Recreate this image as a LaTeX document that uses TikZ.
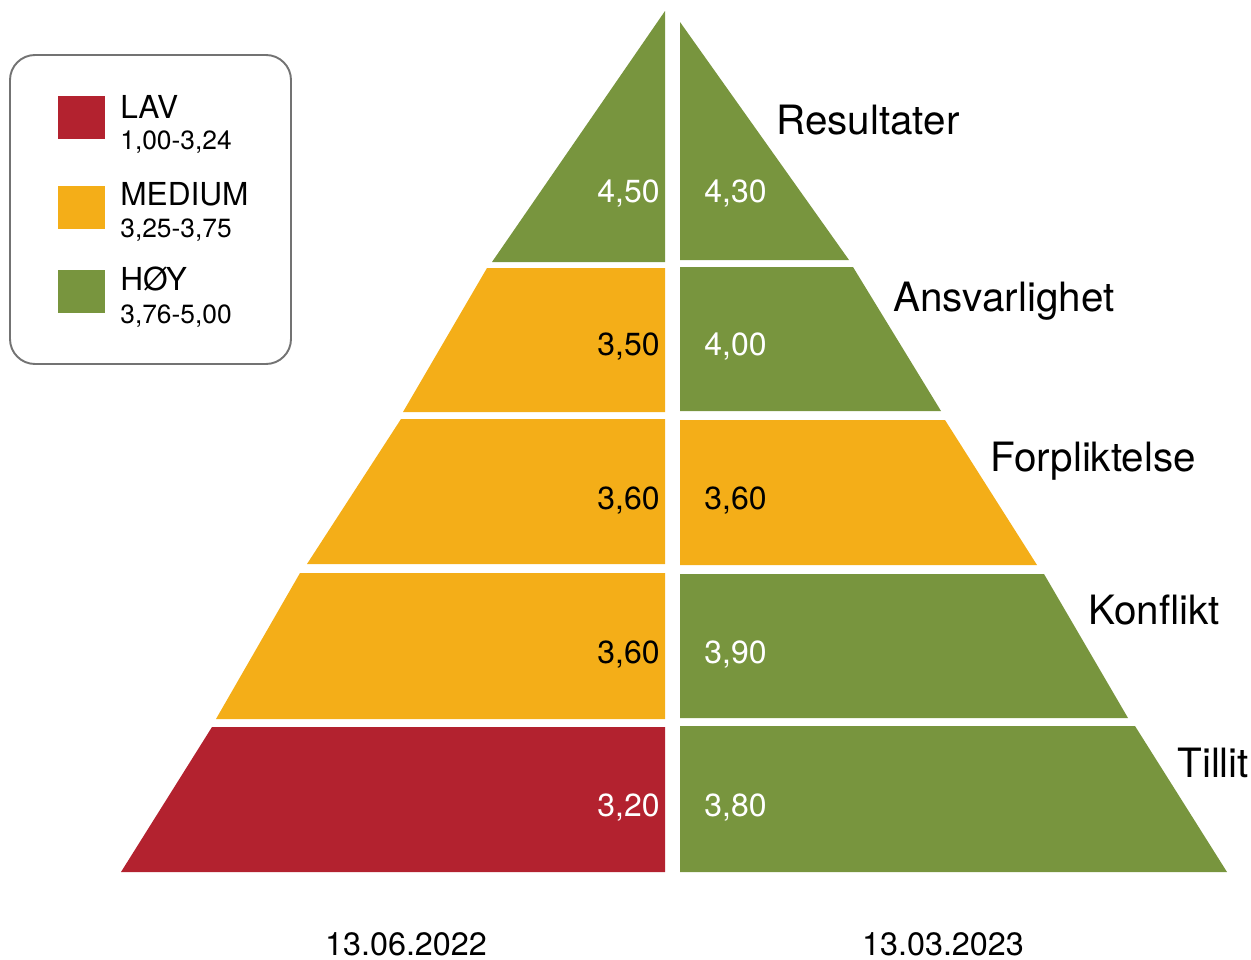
\documentclass[tikz,border=0pt]{standalone}
\usepackage{fontspec}
\setmainfont{TeX Gyre Heros}
\usetikzlibrary{positioning}
\definecolor{lavred}{RGB}{179,34,47}
\definecolor{medorange}{RGB}{244,174,24}
\definecolor{hoygreen}{RGB}{120,149,62}
\definecolor{boxgray}{RGB}{115,115,115}
\tikzset{
    tierr/.style = {fill=lavred},
    tiero/.style = {fill=medorange},
    tierg/.style = {fill=hoygreen},
    valnode/.style = {inner sep=0pt, font=\fontsize{18.2}{21}\selectfont},
    valw/.style = {valnode, text=white},
    valb/.style = {valnode, text=black},
    lblnode/.style = {anchor=base west, inner sep=0pt, font=\fontsize{23}{27}\selectfont, text=black},
    datenode/.style = {anchor=base, inner sep=0pt, font=\fontsize{18.4}{21}\selectfont, text=black},
    keybox/.style = {draw=boxgray, line width=1.1pt, rounded corners=0.5cm},
    keybig/.style = {anchor=base west, inner sep=0pt, font=\fontsize{18}{21}\selectfont},
    keysmall/.style = {anchor=base west, inner sep=0pt, font=\fontsize{15}{18}\selectfont}
}

\begin{document}
\begin{tikzpicture}[x=0.02cm, y=-0.02cm]
\path[use as bounding box] (0,0) rectangle (1251,960);
% left half, 13.06.2022
\fill[tierg] (665,11) -- (665,262) -- (492,262) -- cycle;
\fill[tiero] (487,268) -- (665,268) -- (665,412) -- (403,412) -- cycle;
\fill[tiero] (401,419) -- (665,419) -- (665,564) -- (307,564) -- cycle;
\fill[tiero] (300,573) -- (665,573) -- (665,719) -- (216,719) -- cycle;
\fill[tierr] (212,727) -- (665,727) -- (665,872) -- (121,872) -- cycle;
% right half, 13.03.2023
\fill[tierg] (680,22) -- (849,260) -- (680,260) -- cycle;
\fill[tierg] (680,267) -- (853,267) -- (941,411) -- (680,411) -- cycle;
\fill[tiero] (680,420) -- (945,420) -- (1037,565) -- (680,565) -- cycle;
\fill[tierg] (680,574) -- (1044,574) -- (1128,718) -- (680,718) -- cycle;
\fill[tierg] (680,726) -- (1135,726) -- (1227,872) -- (680,872) -- cycle;
%
\node[valw, anchor=base east] at (660,202) (v1l) {4,50};
\node[valb, anchor=base east] at (660,355) (v2l) {3,50};
\node[valb, anchor=base east] at (660,509) (v3l) {3,60};
\node[valb, anchor=base east] at (660,663) (v4l) {3,60};
\node[valw, anchor=base east] at (660,816) (v5l) {3,20};
\node[valw, anchor=base west] at (704,202) (v1r) {4,30};
\node[valw, anchor=base west] at (704,355) (v2r) {4,00};
\node[valb, anchor=base west] at (704,509) (v3r) {3,60};
\node[valw, anchor=base west] at (704,663) (v4r) {3,90};
\node[valw, anchor=base west] at (704,816) (v5r) {3,80};
%
\node[lblnode] at (776,134) (t1) {Resultater};
\node[lblnode] at (893,311) (t2) {Ansvarlighet};
\node[lblnode] at (990,471) (t3) {Forpliktelse};
\node[lblnode] at (1088,624) (t4) {Konflikt};
\node[lblnode] at (1177,777) (t5) {Tillit};
%
\node[datenode] at (406,955) (d1) {13.06.2022};
\node[datenode] at (943,955) (d2) {13.03.2023};
% legend
\draw[keybox] (10,55) rectangle (291,364);
\fill[tierr] (58,96) rectangle (105,139);
\fill[tiero] (58,186) rectangle (105,229);
\fill[tierg] (58,270) rectangle (105,313);
\node[keybig] at (120,118) (k1) {LAV};
\node[keysmall] at (120,149) (k1s) {1,00-3,24};
\node[keybig] at (120,205) (k2) {MEDIUM};
\node[keysmall] at (120,237) (k2s) {3,25-3,75};
\node[keybig] at (120,290) (k3) {HØY};
\node[keysmall] at (120,323) (k3s) {3,76-5,00};
\end{tikzpicture}
\end{document}
